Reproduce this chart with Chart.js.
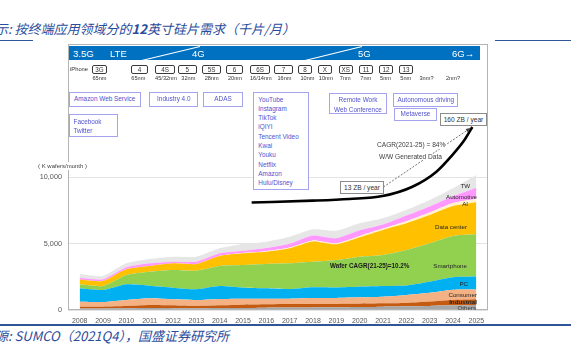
<!DOCTYPE html>
<html>
<head>
<meta charset="utf-8">
<script src="https://cdn.jsdelivr.net/npm/chart.js@4.4.1/dist/chart.umd.min.js"></script>
<style>
  body { margin: 0; background: #fff; }
  #page { position: relative; width: 571px; height: 352px; overflow: hidden; font-family: 'Liberation Sans', Arial, sans-serif; }
  .abs { position: absolute; white-space: nowrap; line-height: 1; }
  .cn { font-family: 'Noto Sans CJK SC', sans-serif; font-style: italic; color: #2b4c9c; font-size: 13px; }
  .rule { position: absolute; left: 0; width: 571px; background: #2f5597; }
  #sheet { position: absolute; left: 33px; top: 38px; width: 462px; height: 283px; background: #fff; }
  #frame { position: absolute; left: 68px; top: 44px; width: 420px; height: 266px; border: 1px solid #b4b4b4; box-sizing: border-box; z-index: 3; pointer-events: none; }
  #chart { position: absolute; left: 0; top: 0; z-index: 2; }
  #over { position: absolute; left: 0; top: 0; width: 571px; height: 352px; z-index: 4; }
  .band { position: absolute; left: 69px; top: 46px; width: 411px; height: 14px; background: #0070c0; }
  .bandTxt { color: #fff; font-size: 9.5px; }
  .phone { position: absolute; border: 1.2px solid #3a3a3a; border-radius: 2px; background: #fff; box-sizing: border-box; height: 9px; font-size: 6.3px; color: #333; text-align: center; line-height: 7px; }
  .node { font-size: 5.6px; color: #333; }
  .app { position: absolute; border: 1px solid #a3a3ee; background: #fff; box-sizing: border-box; font-size: 6.4px; color: #5252cf; white-space: nowrap; }
  .lab { font-size: 6.2px; color: #262626; }
  .note { font-size: 6.6px; color: #404040; background: #fff; }
  .zb { position: absolute; border: 1px solid #8c8c8c; background: #fff; box-sizing: border-box; font-size: 6.6px; color: #333; text-align: center; }
</style>
</head>
<body>
<div id="page">
  <div class="abs cn" style="left:-5px;top:22px;">示: 按终端应用领域分的<b>12</b>英寸硅片需求（千片/月）</div>
  <div class="rule" style="top:40px;height:1px;"></div>
  <div class="rule" style="top:324px;height:2px;"></div>
  <div class="abs cn" style="left:-5px;top:329px;">源: SUMCO（2021Q4），国盛证券研究所</div>
  <div id="sheet"></div>
  <canvas id="chart" width="571" height="352"></canvas>
  <div id="frame"></div>
  <div id="over"></div>
</div>
<script>
// Categories
const years = ['2008', '2009', '2010', '2011', '2012', '2013', '2014', '2015', '2016',
  '2017', '2018', '2019', '2020', '2021', '2022', '2023', '2024', '2025'];

// 12" wafer demand by application, K wafers/month (stacked, bottom to top)
const others     = [120, 120, 130, 150, 140, 130, 150, 150, 170, 180, 190, 200, 220, 250, 280, 310, 350, 380];
const industrial = [130, 130, 170, 230, 210, 170, 200, 250, 260, 270, 270, 260, 250, 250, 250, 320, 400, 420];
const consumer   = [370, 350, 450, 500, 450, 450, 480, 450, 420, 400, 440, 440, 480, 500, 600, 670, 780, 750];
const pc         = [1010, 900, 1180, 950, 880, 810, 970, 830, 780, 730, 810, 800, 800, 800, 720, 830, 930, 960];
const smartphone = [300, 300, 700, 1050, 1330, 1400, 1510, 1700, 1830, 1930, 1920, 2060, 2260, 2340, 2660, 2890, 3110, 3180];
const dataCenter = [370, 380, 430, 430, 500, 500, 750, 880, 920, 1130, 1520, 1180, 1460, 1880, 2010, 2120, 2250, 2410];
const ai         = [0, 0, 0, 0, 0, 0, 20, 30, 40, 50, 70, 70, 100, 110, 160, 190, 230, 250];
const automotive = [130, 130, 150, 200, 120, 170, 180, 170, 250, 300, 380, 380, 420, 300, 420, 450, 500, 850];
const tw         = [280, 250, 300, 330, 380, 380, 380, 500, 470, 520, 470, 570, 530, 470, 420, 490, 600, 950];

const seriesNames = ['Others', 'Industrial', 'Consumer', 'PC', 'Smartphone', 'Data center', 'AI', 'Automotive', 'TW'];
const seriesData = [others, industrial, consumer, pc, smartphone, dataCenter, ai, automotive, tw];

// WW generated data curve (drawn against the wafer axis scale) and its CAGR guide
const dataGenYears = [2015.37, 2017.98, 2019.56, 2020.98, 2022.26, 2023.29, 2023.97, 2024.49, 2024.83];
const dataGenLevel = [8080, 8220, 8350, 8570, 9270, 10400, 11650, 12780, 13760];
const cagrYears = [2021.02, 2024.75];
const cagrLevel = [9250, 13680];

// Y ticks
const yTicks = [0, 5000, 10000];

// Header texts
const generations = ['3.5G', 'LTE', '4G', '5G', '6G→'];
const iphones = ['3G', '4', '4S', '5', '5S', '6', '6S', '7', '8', 'X', 'XS', '11', '12', '13'];
const nodes = ['65nm', '65nm', '45/32nm', '32nm', '28nm', '20nm', '16/14nm', '16nm', '10nm', '10nm', '7nm', '7nm', '5nm', '5nm', '3nm?', '2nm?'];
const apps = [
  ['Amazon Web Service'], ['Industry 4.0'], ['ADAS'], ['Facebook', 'Twitter'],
  ['YouTube', 'Instagram', 'TikTok', 'iQIYI', 'Tencent Video', 'Kwai', 'Youku', 'Netflix', 'Amazon', 'Hulu/Disney'],
  ['Remote Work', 'Web Conference'], ['Autonomous driving'], ['Metaverse']
];

// Layout (pixels) for the header decoration
const genLeft = [73, 110, 192, 358, 452];
const phoneBox = [[92, 15], [131, 17], [155, 20], [178, 18.5], [202, 19], [226, 17], [250, 20], [274, 19],
  [298, 14], [318, 13.5], [339, 13.5], [359, 14], [379, 14], [399, 14]];
const nodeCenter = [99.5, 138.3, 166, 188.3, 211.7, 235, 260.8, 284.5, 307.5, 325.8, 345.3, 365.8, 385.5, 405.8, 426.5, 453];
const appBox = [
  { x: 68.5, y: 92.3, w: 72.4, h: 14.4, c: true }, { x: 149.3, y: 92.3, w: 49, h: 14.4, c: true },
  { x: 203.3, y: 92.3, w: 39.4, h: 14.4, c: true }, { x: 68.5, y: 114, w: 49, h: 23.3 },
  { x: 253.3, y: 92.3, w: 56, h: 97.7 }, { x: 329.3, y: 92.7, w: 57.4, h: 21.3, c: true },
  { x: 393.3, y: 92.7, w: 65, h: 14, c: true }, { x: 394.3, y: 108.3, w: 42.4, h: 12.4, c: true }
];
const areaColors = ['#a6a6a6', '#c55a11', '#f4b183', '#00b0f0', '#92d050', '#ffc000', '#fff2cc', '#ff99ff', '#e7e6e6'];
const labelPos = [[476, 308, '#404040'], [477, 302.3, '#262626', true], [477, 294.5], [468, 284], [467, 265.7],
  [467, 226.7], [468, 203.5], [477, 197.3], [470, 186]];

const over = document.getElementById('over');
function put(html, cls, css) {
  const d = document.createElement('div');
  d.className = cls;
  d.innerHTML = html;
  d.style.cssText = css;
  over.appendChild(d);
  return d;
}

// Generation band
put('', 'band', '');
over.insertAdjacentHTML('beforeend',
  '<svg style="position:absolute;left:0;top:0" width="571" height="80">' +
  '<line x1="141.7" y1="60.5" x2="200" y2="46.5" stroke="#fff" stroke-width="1.2"/>' +
  '<line x1="305" y1="60.5" x2="362" y2="46.5" stroke="#fff" stroke-width="1.2"/></svg>');
generations.forEach((g, i) => put(g, 'abs bandTxt', `left:${genLeft[i]}px;top:48.5px;`));

// iPhone row
put('iPhone', 'abs node', 'left:70px;top:67px;font-size:5.8px;');
iphones.forEach((m, i) => put(m, 'phone', `left:${phoneBox[i][0]}px;top:64.5px;width:${phoneBox[i][1]}px;`));
nodes.forEach((n, i) => put(n, 'abs node', `left:${nodeCenter[i]}px;top:76px;transform:translateX(-50%);`));

// Application boxes
apps.forEach((lines, i) => {
  const b = appBox[i];
  const lh = lines.length > 2 ? 9.27 : (lines.length === 2 ? 9.4 : b.h - 2);
  const pad = lines.length > 1 ? (lines.length > 2 ? 1.4 : 1.8) : 0;
  put(lines.join('<br>'), 'app',
    `left:${b.x}px;top:${b.y}px;width:${b.w}px;height:${b.h}px;line-height:${lh}px;padding-top:${pad}px;` +
    (b.c ? 'text-align:center;' : 'padding-left:4px;'));
});

// Axis title
put('( K wafers/month )', 'abs', 'left:38px;top:162px;font-size:6px;color:#404040;background:#fff;padding:1px 0;');

// Data generation notes
put('13 ZB / year', 'zb', 'left:340px;top:181px;width:44px;height:13px;line-height:11px;');
put('160 ZB / year', 'zb', 'left:440px;top:113px;width:47px;height:13px;line-height:11px;');
put('CAGR(2021-25) = 84%', 'abs note', 'left:377px;top:142px;');
put('W/W Generated Data', 'abs note', 'left:379px;top:153.5px;');

// Series labels
seriesNames.forEach((n, i) => {
  const p = labelPos[i];
  put(n, 'abs lab', `left:${p[0]}px;top:${p[1]}px;transform:translate(-100%,-50%);` +
    (p[2] ? `color:${p[2]};` : '') + (p[3] ? 'font-weight:bold;' : ''));
});
put('Wafer CAGR(21-25)=10.2%', 'abs lab', 'left:330px;top:266px;transform:translateY(-50%);font-weight:bold;font-size:6.3px;color:#1a1a1a;');

// Arrow head at the end of the CAGR guide
const arrowHead = {
  id: 'arrowHead',
  afterDatasetsDraw(chart) {
    const meta = chart.getDatasetMeta(seriesData.length + 1);
    const pts = meta.data;
    const a = pts[pts.length - 2], b = pts[pts.length - 1];
    const ang = Math.atan2(b.y - a.y, b.x - a.x);
    const ctx = chart.ctx;
    ctx.save();
    ctx.fillStyle = '#404040';
    ctx.beginPath();
    ctx.moveTo(b.x, b.y);
    ctx.lineTo(b.x - 5 * Math.cos(ang - 0.4), b.y - 5 * Math.sin(ang - 0.4));
    ctx.lineTo(b.x - 5 * Math.cos(ang + 0.4), b.y - 5 * Math.sin(ang + 0.4));
    ctx.closePath();
    ctx.fill();
    ctx.restore();
  }
};

const datasets = seriesData.map((d, i) => ({
  label: seriesNames[i],
  data: d,
  backgroundColor: areaColors[i],
  borderWidth: 0,
  pointRadius: 0,
  tension: 0.2,
  fill: i === 0 ? 'origin' : '-1'
}));
datasets.push({
  label: 'WW Generated Data',
  data: dataGenYears.map((x, i) => ({ x, y: dataGenLevel[i] })),
  xAxisID: 'x2', yAxisID: 'y2',
  borderColor: '#000', borderWidth: 2.6, pointRadius: 0, fill: false,
  cubicInterpolationMode: 'monotone', order: -1
});
datasets.push({
  label: 'CAGR',
  data: cagrYears.map((x, i) => ({ x, y: cagrLevel[i] })),
  xAxisID: 'x2', yAxisID: 'y2',
  borderColor: '#505050', borderWidth: 0.8, borderDash: [2, 1.5], pointRadius: 0, fill: false, order: -2
});

new Chart(document.getElementById('chart'), {
  type: 'line',
  data: { labels: years, datasets },
  plugins: [arrowHead],
  options: {
    responsive: false,
    animation: false,
    layout: { padding: { left: 0, right: 83, top: 44, bottom: 24 } },
    plugins: { legend: { display: false }, tooltip: { enabled: false } },
    scales: {
      x: {
        offset: true,
        grid: { display: false, drawTicks: false },
        border: { display: false },
        ticks: { color: '#595959', font: { size: 7, family: 'Liberation Sans' }, padding: 7, maxRotation: 0, autoSkip: false },
        afterFit: s => { s.height = 18; }
      },
      y: {
        stacked: true,
        min: 0, max: 20000,
        border: { display: false },
        grid: { color: '#e3e3e3', drawTicks: false },
        ticks: {
          stepSize: 5000, padding: 6, color: '#595959',
          font: { size: 7.3, family: 'Liberation Sans' },
          callback: v => v.toLocaleString('en-US')
        },
        afterBuildTicks: s => { s.ticks = s.ticks.filter(t => yTicks.includes(t.value)); },
        afterFit: s => { s.width = 68; }
      },
      x2: { type: 'linear', display: false, min: 2007.5, max: 2025.5 },
      y2: { display: false, min: 0, max: 20000 }
    }
  }
});
</script>
</body>
</html>
